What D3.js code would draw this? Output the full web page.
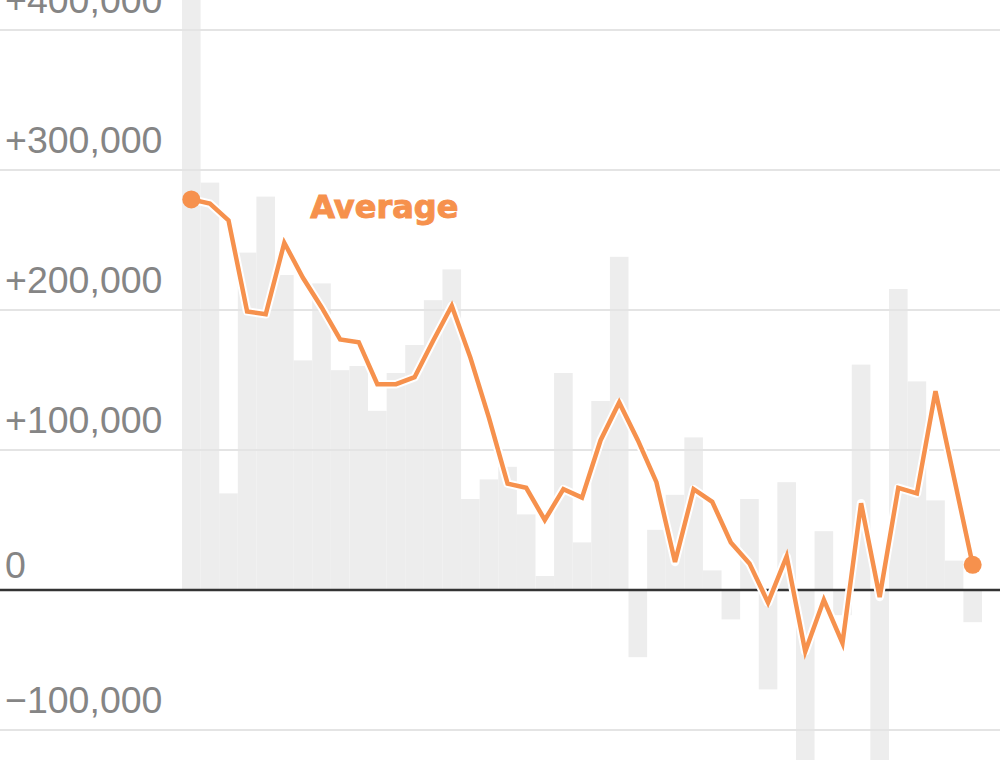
<!DOCTYPE html>
<html>
<head>
<meta charset="utf-8">
<script src="https://cdn.jsdelivr.net/npm/d3@7"></script>
<style>
  html, body { margin: 0; padding: 0; background: #fff; }
  svg { display: block; }
</style>
</head>
<body>
<svg id="chart" width="1000" height="760"></svg>
<script>
// one entry per period (43 periods)
const periods = ["p1","p2","p3","p4","p5","p6","p7","p8","p9","p10",
  "p11","p12","p13","p14","p15","p16","p17","p18","p19","p20",
  "p21","p22","p23","p24","p25","p26","p27","p28","p29","p30",
  "p31","p32","p33","p34","p35","p36","p37","p38","p39","p40",
  "p41","p42","p43"];

// monthly change (gray bars)
const monthly = [480000, 291000, 69000, 241000, 281000, 225000, 164000, 219000, 157000, 160000,
  128000, 155000, 175000, 207000, 229000, 65000, 79000, 88000, 54000, 10000,
  155000, 34000, 135000, 238000, -48000, 43000, 68000, 109000, 14000, -21000,
  65000, -71000, 77000, -140000, 42000, -18000, 161000, -140000, 215000, 149000,
  64000, 21000, -23000];

// average (orange line)
const average = [279000, 276000, 264000, 199000, 197000, 248000, 223000, 202000, 179000, 177000,
  147000, 147000, 152000, 178000, 203000, 166000, 123000, 76000, 73000, 50000,
  72000, 66000, 107000, 134000, 107000, 77000, 20000, 72000, 63000, 34000,
  19000, -9000, 24000, -44000, -7000, -38000, 62000, -5000, 73000, 69000,
  142000, 80000, 18000];

const ticks = [-100000, 0, 100000, 200000, 300000, 400000];

const svg = d3.select("#chart");
const width = +svg.attr("width");
const height = +svg.attr("height");
const orange = "#f6914d";

const x = d3.scaleBand().domain(periods).range([182, 982]).padding(0);
const y = d3.scaleLinear().domain([-120000, 420000]).range([758, 2]);

const fmt = d => d === 0 ? "0" : (d > 0 ? "+" : "\u2212") + d3.format(",")(Math.abs(d));

// bars
svg.append("g")
  .selectAll("rect")
  .data(periods)
  .join("rect")
  .attr("x", d => x(d))
  .attr("width", x.bandwidth())
  .attr("y", (d, i) => y(Math.max(0, monthly[i])))
  .attr("height", (d, i) => Math.abs(y(monthly[i]) - y(0)))
  .attr("fill", "#ededed");

// gridlines
svg.append("g")
  .selectAll("line")
  .data(ticks.filter(d => d !== 0))
  .join("line")
  .attr("x1", 0)
  .attr("x2", width)
  .attr("y1", d => y(d))
  .attr("y2", d => y(d))
  .attr("stroke", "#e4e4e4")
  .attr("stroke-width", 2);

// zero line
svg.append("line")
  .attr("x1", 0)
  .attr("x2", width)
  .attr("y1", y(0))
  .attr("y2", y(0))
  .attr("stroke", "#333")
  .attr("stroke-width", 2.5);

// tick labels
svg.append("g")
  .selectAll("text")
  .data(ticks)
  .join("text")
  .attr("x", 5)
  .attr("y", d => y(d) - (d === 0 ? 12 : 17))
  .attr("fill", "#858585")
  .style("font-family", "'Liberation Sans', Arial, sans-serif")
  .style("font-size", "37.5px")
  .text(fmt);

// average line with white halo
const line = d3.line()
  .x((d, i) => x(periods[i]) + x.bandwidth() / 2)
  .y(d => y(d));

svg.append("path")
  .datum(average)
  .attr("d", line)
  .attr("fill", "none")
  .attr("stroke", "#fff")
  .attr("stroke-width", 8.5)
  .attr("stroke-linejoin", "round");

svg.append("path")
  .datum(average)
  .attr("d", line)
  .attr("fill", "none")
  .attr("stroke", orange)
  .attr("stroke-width", 4.5);

const ends = [0, average.length - 1];
svg.append("g")
  .selectAll("circle")
  .data(ends)
  .join("circle")
  .attr("cx", i => x(periods[i]) + x.bandwidth() / 2)
  .attr("cy", i => y(average[i]))
  .attr("r", 9)
  .attr("fill", orange);

svg.append("text")
  .attr("x", x(periods[7]) - 2)
  .attr("y", y(266000))
  .attr("fill", orange)
  .attr("stroke", orange)
  .attr("stroke-width", 1)
  .style("font-family", "'DejaVu Sans', sans-serif")
  .style("font-weight", "bold")
  .style("font-size", "32px")
  .text("Average");
</script>
</body>
</html>
